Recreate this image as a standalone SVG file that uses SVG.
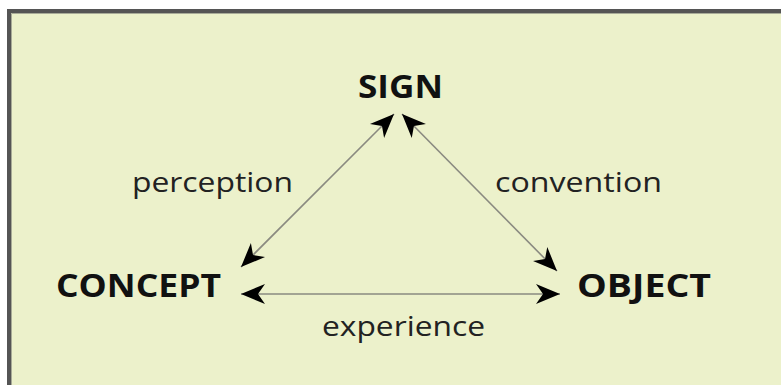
<svg xmlns="http://www.w3.org/2000/svg" width="781" height="385" viewBox="0 0 781 385">
<style>
.bold{font-family:"Open Sans","Noto Sans",sans-serif;font-weight:bold;font-size:33px;fill:#111}
.lbl{font-family:"Open Sans","Noto Sans",sans-serif;font-size:28px;fill:#222}
.conn{stroke:#8a8a80;stroke-width:1.6;fill:none}
</style>
<defs>
<marker id="ah" viewBox="-26 -12 28 24" refX="0" refY="0" markerWidth="28" markerHeight="24" markerUnits="userSpaceOnUse" orient="auto-start-reverse">
<path d="M0,0 L-24,-10 L-17,0 L-24,10 Z" fill="#000"/>
</marker>
</defs>
<rect x="0" y="0" width="781" height="385" fill="#fff"/>
<rect x="9" y="11" width="800" height="400" fill="#ECF1CB" stroke="#555" stroke-width="4"/>
<path d="M11.5,400 V13.5 H790" fill="none" stroke="#a8ab98" stroke-width="1"/>
<g id="connectors">
<line class="conn" x1="394" y1="114" x2="241" y2="267" marker-start="url(#ah)" marker-end="url(#ah)"/>
<line class="conn" x1="402" y1="114" x2="557" y2="271" marker-start="url(#ah)" marker-end="url(#ah)"/>
<line class="conn" x1="241" y1="294" x2="560" y2="294" marker-start="url(#ah)" marker-end="url(#ah)"/>
</g>
<g id="sign"><text class="bold" x="358" y="98" textLength="85" lengthAdjust="spacingAndGlyphs">SIGN</text></g>
<g id="concept"><text class="bold" x="56" y="297" textLength="165" lengthAdjust="spacingAndGlyphs">CONCEPT</text></g>
<g id="object"><text class="bold" x="577" y="297" textLength="134" lengthAdjust="spacingAndGlyphs">OBJECT</text></g>
<g id="perception"><text class="lbl" x="132" y="192" textLength="161" lengthAdjust="spacingAndGlyphs">perception</text></g>
<g id="convention"><text class="lbl" x="495" y="192" textLength="167" lengthAdjust="spacingAndGlyphs">convention</text></g>
<g id="experience"><text class="lbl" x="322" y="336" textLength="163" lengthAdjust="spacingAndGlyphs">experience</text></g>
</svg>
